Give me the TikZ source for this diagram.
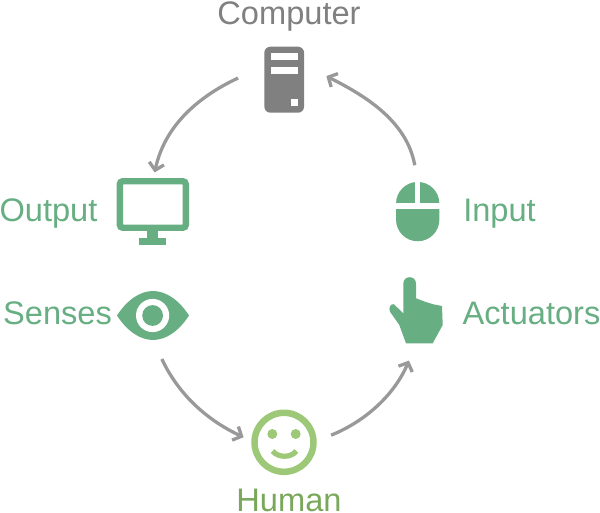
\documentclass[tikz,border=0pt]{standalone}
\usepackage{fontspec}
\setmainfont{Liberation Sans}
\usetikzlibrary{arrows.meta}

\definecolor{leafgreen}{RGB}{103, 174, 130}
\definecolor{smilegreen}{RGB}{157, 200, 120}
\definecolor{humangreen}{RGB}{122, 168, 90}
\definecolor{servergray}{RGB}{128, 128, 128}
\definecolor{flowgray}{RGB}{153, 153, 153}

\tikzset{
  caption/.style={anchor=base, inner sep=0pt, font=\fontsize{32.6}{36}\selectfont},
  iconbox/.style={inner sep=0pt, outer sep=0pt},
  flow/.style={draw=flowgray, line width=3.3pt, -{Straight Barb[length=7pt,width=15pt,line width=3.3pt]}}
}

\begin{document}
\begin{tikzpicture}[x=1pt,y=-1pt]
    \useasboundingbox (0,0) rectangle (600,512);

    % Computer
    \node[iconbox, fill=servergray, rounded corners=6pt, minimum width=39.7pt, minimum height=66pt] (computer) at (284.2,79.7) {};
    \fill[white] (271,53.3) rectangle (297.7,60.3);
    \fill[white] (271,66.7) rectangle (297.7,73.7);
    \fill[white] (290.7,99) rectangle (297.7,106.3);
    \node[caption, text=servergray] (computerlabel) at (289,24) {Computer};

    % Output
    \node[iconbox, draw=leafgreen, line width=6.4pt, rounded corners=3pt, minimum width=66pt, minimum height=46.5pt] (output) at (152.8,204.5) {};
    \fill[leafgreen] (146.7,230) rectangle (158.3,238);
    \fill[leafgreen] (139.3,237.7) rectangle (166,244.7);
    \node[caption, text=leafgreen] (outputlabel) at (48.5,221.7) {Output};

    % Senses
    \node[iconbox, minimum width=72pt, minimum height=49pt] (senses) at (153,315.5) {};
    \fill[leafgreen] (117,315.5) .. controls (127,300) and (140,291) .. (153,291)
      .. controls (166,291) and (179,300) .. (189,315.5)
      .. controls (179,331) and (166,340) .. (153,340)
      .. controls (140,340) and (127,331) .. (117,315.5) -- cycle;
    \fill[white] (152.6,315.5) circle (16.6pt);
    \fill[leafgreen] (152.6,315.5) circle (10.4pt);
    \node[caption, text=leafgreen] (senseslabel) at (57.5,324) {Senses};

    % Human
    \node[iconbox, circle, draw=smilegreen, line width=6.5pt, minimum size=59pt] (human) at (284,442.3) {};
    \fill[smilegreen] (272.3,434) circle (5pt);
    \fill[smilegreen] (295.7,434) circle (5pt);
    \draw[smilegreen, line width=5.2pt] (272.6,451) .. controls (278,458) and (291,458) .. (296.4,451);
    \node[caption, text=humangreen] (humanlabel) at (289,511) {Human};

    % Actuators
    \node[iconbox, minimum width=54pt, minimum height=66pt] (actuators) at (416,311) {};
    \fill[leafgreen] (403.3,313.3) -- (403.3,283.7) .. controls (403.3,275) and (416,275) .. (416,283.7)
      -- (416,298.3) -- (425,301.7) -- (433.3,304.3) -- (442,306) -- (442.7,325) -- (432.7,343.3)
      -- (406,343.3) -- (399.3,325) -- (390,311.7) .. controls (388.3,308) and (390.5,303.5) .. (393.8,304.2) -- cycle;
    \node[caption, text=leafgreen] (actuatorslabel) at (531.5,324) {Actuators};

    % Input
    \node[iconbox, fill=leafgreen, rounded corners=21.6pt, minimum width=43.3pt, minimum height=59.3pt] (input) at (417.7,211.6) {};
    \fill[white] (394,203.3) rectangle (441,209);
    \fill[white] (415,180) rectangle (420.3,203.3);
    \node[caption, text=leafgreen] (inputlabel) at (499.5,221.7) {Input};

    % Connectors
    \draw[flow, shorten <=29pt, shorten >=9pt] (computer.145) to[out=205, in=78] (output.north);
    \draw[flow, shorten <=17pt, shorten >=25pt] (input.north) to[out=100, in=-27] (computer.37);
    \draw[flow, shorten <=21pt, shorten >=12pt] (senses.south) to[out=-65, in=155] (human.west);
    \draw[flow, shorten <=19pt, shorten >=18pt] (human.east) to[out=22, in=-113] (actuators.south);
  \end{tikzpicture}
\end{document}
